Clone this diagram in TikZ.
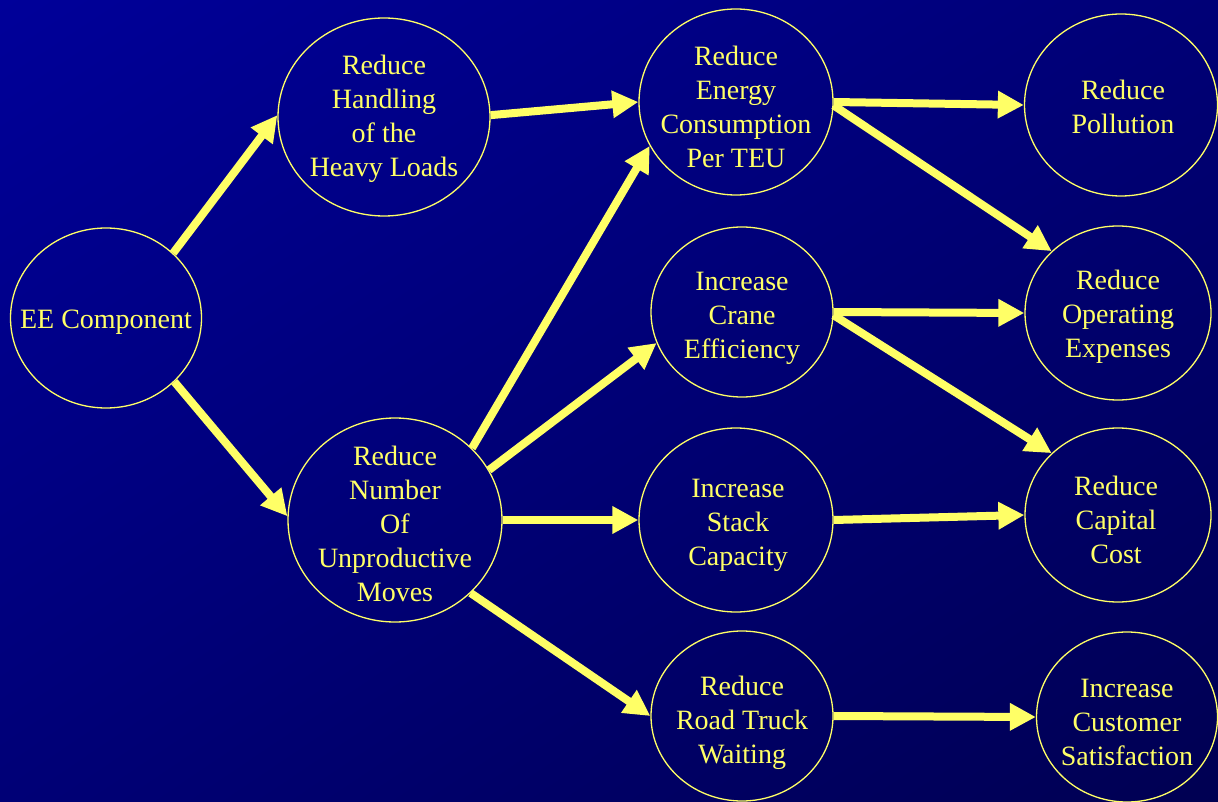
\documentclass[tikz,border=0pt]{standalone}
\usepackage{fontspec}
\setmainfont{Liberation Serif}
\usetikzlibrary{shapes.geometric,arrows.meta,shadings}
\definecolor{yel}{HTML}{FFFF66}
\definecolor{bgA}{RGB}{0,0,153}
\definecolor{bgB}{RGB}{0,0,118}
\definecolor{bgC}{RGB}{0,0,82}
\begin{document}
\begin{tikzpicture}[x=1pt,y=-1pt,
  bub/.style={draw=yel, line width=1.3pt, ellipse, inner sep=0pt},
  txt/.style={text=yel, align=center, font=\fontsize{28}{34}\selectfont, inner sep=0pt},
  arr/.style={draw=yel, line width=8pt, -{Triangle[length=26pt,width=26pt]}}]
\useasboundingbox (0,0) rectangle (1218,802);
\shade[upper left=bgA, upper right=bgB, lower left=bgB, lower right=bgC] (0,0) rectangle (1218,802);

\node[bub, minimum width=191pt, minimum height=180pt] (ee) at (106,318) {};
\node[bub, minimum width=212pt, minimum height=198pt] (hand) at (384,117) {};
\node[bub, minimum width=214pt, minimum height=204pt] (num) at (395,520) {};
\node[bub, minimum width=194pt, minimum height=186pt] (ener) at (736,102) {};
\node[bub, minimum width=182pt, minimum height=170pt] (crane) at (742,312) {};
\node[bub, minimum width=194pt, minimum height=184pt] (stack) at (736,520) {};
\node[bub, minimum width=182pt, minimum height=170pt] (truck) at (742,716) {};
\node[bub, minimum width=193pt, minimum height=182pt] (poll) at (1121,105) {};
\node[bub, minimum width=186pt, minimum height=174pt] (oper) at (1118,313) {};
\node[bub, minimum width=186pt, minimum height=174pt] (cap) at (1118,515) {};
\node[bub, minimum width=181pt, minimum height=170pt] (cust) at (1127,717) {};

\node[txt] (tee) at (106,322) {EE Component};
\node[txt] (thand) at (384,119) {Reduce\\Handling\\of the\\Heavy Loads};
\node[txt] (tnum) at (395,524) {Reduce\\Number\\Of\\Unproductive\\Moves};
\node[txt] (tener) at (736,107) {Reduce\\Energy\\Consumption\\Per TEU};
\node[txt] (tcrane) at (742,318) {Increase\\Crane\\Efficiency};
\node[txt] (tstack) at (738,525) {Increase\\Stack\\Capacity};
\node[txt] (ttruck) at (742,723) {Reduce\\Road Truck\\Waiting};
\node[txt] (tpoll) at (1123,107) {Reduce\\Pollution};
\node[txt] (toper) at (1118,317) {Reduce\\Operating\\Expenses};
\node[txt] (tcap) at (1116,520) {Reduce\\Capital\\Cost};
\node[txt] (tcust) at (1127,722) {Increase\\Customer\\Satisfaction};

\draw[arr] (ee.44) -- (hand.179);
\draw[arr] (ee.-43) -- (num.178);
\draw[arr] (hand.1) -- (ener.180);
\draw[arr] (num.43) -- (ener.207);
\draw[arr] (num.28) -- (crane.200);
\draw[arr] (num.0) -- (stack.180);
\draw[arr] (num.-44) -- (truck.180);
\draw[arr] (ener.0) -- (poll.180);
\draw[arr] (ener.-2) -- (oper.137);
\draw[arr] (crane.0) -- (oper.180);
\draw[arr] (crane.-2) -- (cap.137);
\draw[arr] (stack.0) -- (cap.180);
\draw[arr] (truck.0) -- (cust.180);
\end{tikzpicture}
\end{document}
